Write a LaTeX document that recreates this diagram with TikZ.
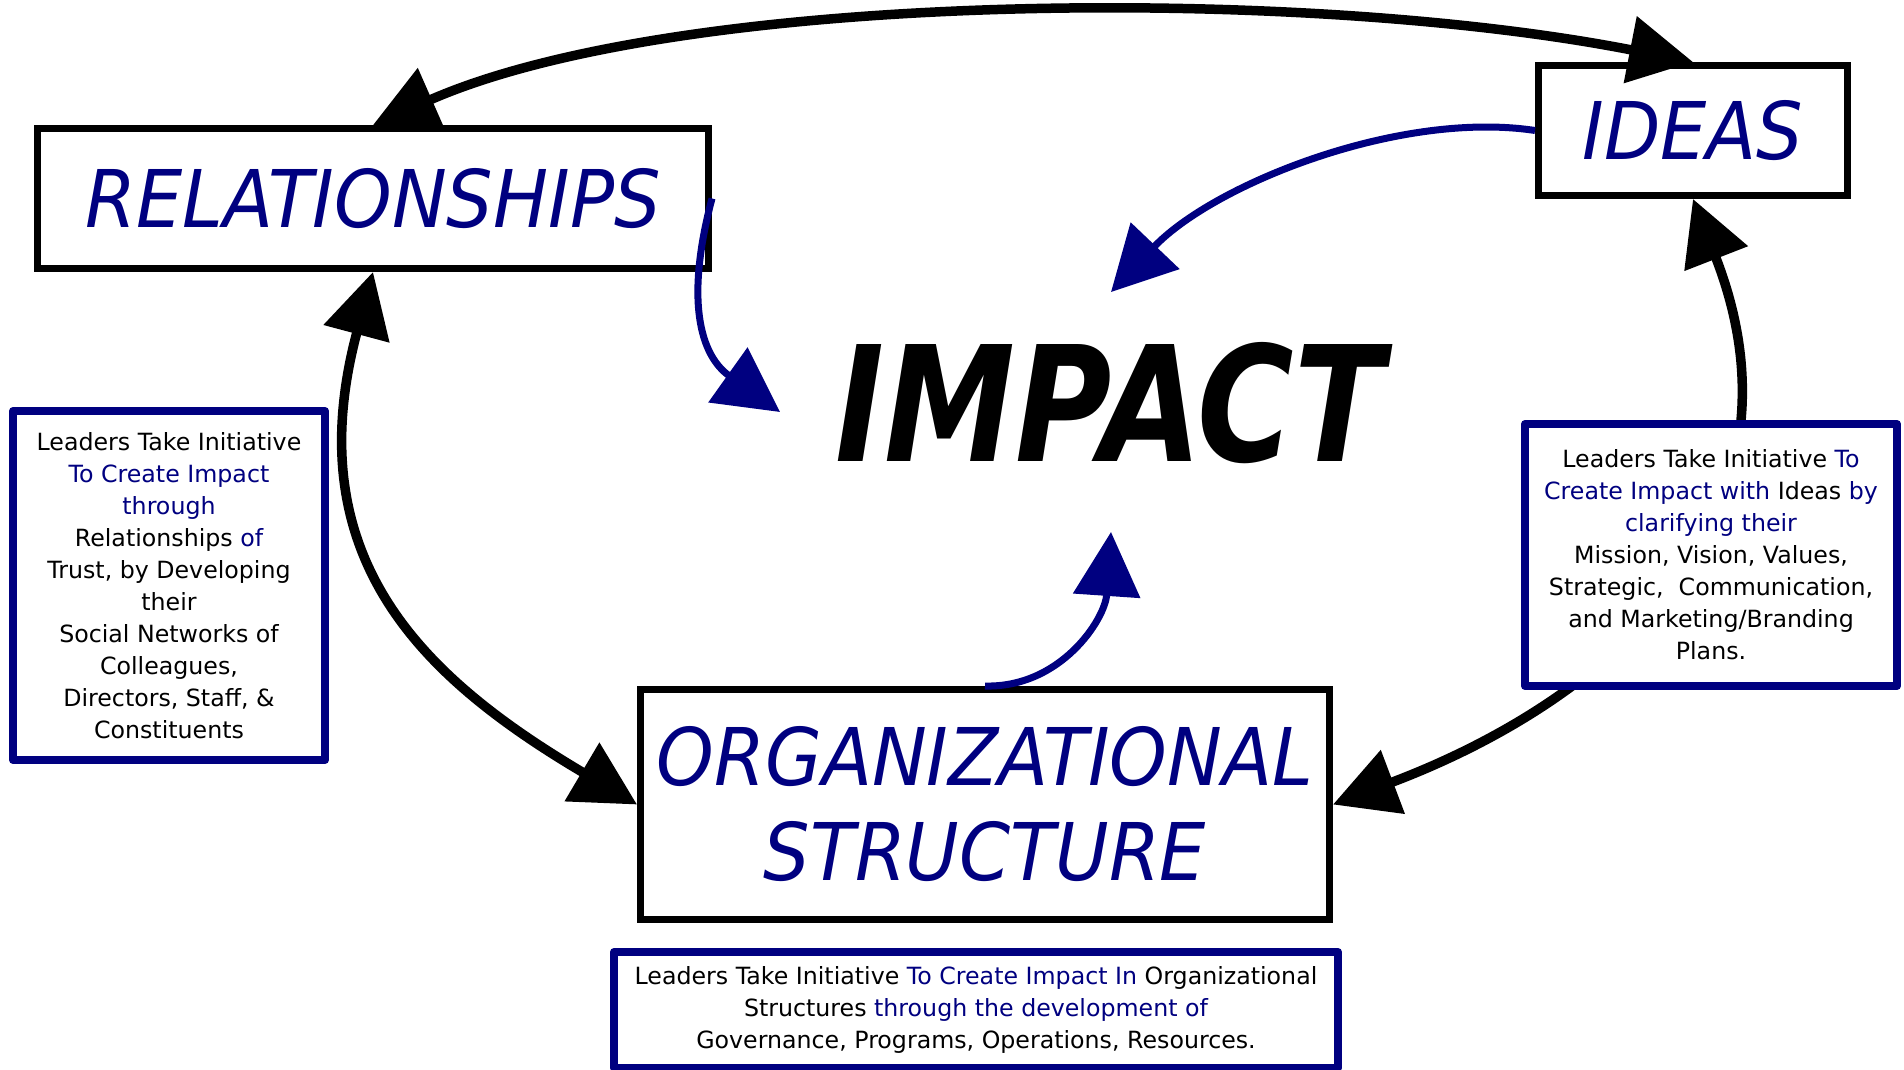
\documentclass[tikz,border=0pt]{standalone}
\usepackage{fontspec}
\setmainfont{DejaVu Sans}
\newfontfamily\titlefont[FakeStretch=0.92]{DejaVu Sans}
\newfontfamily\impactfont[FakeStretch=0.82]{DejaVu Sans}
\usetikzlibrary{arrows.meta}
\definecolor{navy}{RGB}{0,0,128}
\pgfdeclarelayer{bg}
\pgfsetlayers{bg,main}
\begin{document}
\begin{tikzpicture}[x=1pt,y=-1pt,
  bigtip/.tip={Triangle[length=64pt,width=66pt]},
  titlebox/.style={draw=black,line width=7pt,fill=white,inner sep=0pt,align=center,text=navy,
    font=\titlefont\itshape\fontsize{79.6}{95}\selectfont},
  infobox/.style={draw=navy,line width=8pt,fill=white,inner sep=0pt,align=center,line join=round,
    font=\fontsize{23.7}{32}\selectfont},
  blackarc/.style={line width=9.5pt,draw=black},
  bluearc/.style={line width=7pt,draw=navy,-bigtip},
]
\useasboundingbox (0,0) rectangle (1904,1070);

% title boxes
\node[titlebox,minimum width=671pt,minimum height=140pt] (rel) at (373,198.5) {RELATIONSHIPS};
\node[titlebox,minimum width=309pt,minimum height=130pt] (ideas) at (1693,130.5) {IDEAS};
\node[titlebox,minimum width=689pt,minimum height=230pt] (org) at (985,804.5) {ORGANIZATIONAL\\STRUCTURE};

% central word
\node[inner sep=0pt,font=\impactfont\bfseries\itshape\fontsize{160.5}{190}\selectfont] (impact) at (1110,403) {IMPACT};

% info boxes
\node[infobox,minimum width=312pt,minimum height=349pt] (lbox) at (169,585.5) {%
Leaders Take Initiative\\
\textcolor{navy}{To Create Impact}\\
\textcolor{navy}{through}\\
Relationships \textcolor{navy}{of}\\
Trust, by Developing\\
their\\
Social Networks of\\
Colleagues,\\
Directors, Staff, \&\\
Constituents};

\node[infobox,minimum width=372pt,minimum height=262pt] (rbox) at (1711,555) {%
Leaders Take Initiative \textcolor{navy}{To}\\
\textcolor{navy}{Create Impact with} Ideas \textcolor{navy}{by}\\
\textcolor{navy}{clarifying their}\\
Mission, Vision, Values,\\
Strategic,\ \ Communication,\\
and Marketing/Branding\\
Plans.};

\node[infobox,minimum width=724pt,minimum height=116pt] (bbox) at (976,1010) {%
Leaders Take Initiative \textcolor{navy}{To Create Impact In} Organizational\\
Structures \textcolor{navy}{through the development of}\\
Governance, Programs, Operations, Resources.};

% free ends of the blue arrows
\coordinate (t1) at (1111,292);
\coordinate (t2) at (780,412);
\coordinate (t3) at (1111,532);

% black cycle arrows
\draw[blackarc,bigtip-bigtip] (rel.north) .. controls (680,-10) and (1300,-15) .. (ideas.north);
\draw[blackarc,bigtip-bigtip] (rel.south) .. controls (296,560) and (425,679) .. (org.west);
\begin{pgfonlayer}{bg}
\draw[blackarc,bigtip-bigtip] (org.east) .. controls (1610,700) and (1818,520) .. (ideas.south);
\end{pgfonlayer}

% blue arrows to impact
\draw[bluearc] (ideas.west) .. controls (1400,110) and (1214,184) .. (t1);
\draw[bluearc] (rel.east) .. controls (685,300) and (700,355) .. (t2);
\draw[bluearc] (org.north) .. controls (1060,688) and (1105,620) .. (t3);
\end{tikzpicture}
\end{document}
